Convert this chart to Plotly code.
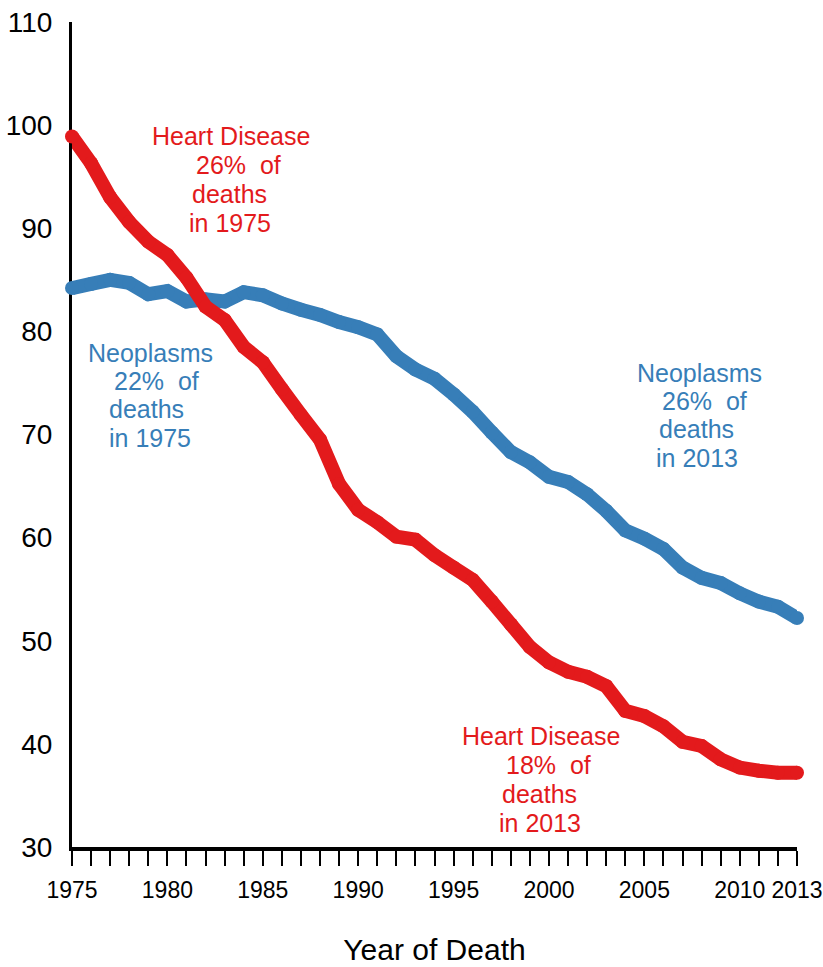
import plotly.graph_objects as go

years = [1975, 1976, 1977, 1978, 1979, 1980, 1981, 1982, 1983, 1984,
         1985, 1986, 1987, 1988, 1989, 1990, 1991, 1992, 1993, 1994,
         1995, 1996, 1997, 1998, 1999, 2000, 2001, 2002, 2003, 2004,
         2005, 2006, 2007, 2008, 2009, 2010, 2011, 2012, 2013]

heart_disease = [98.9, 96.3, 93.0, 90.6, 88.7, 87.4, 85.2, 82.4, 81.1, 78.5,
                 77.0, 74.4, 71.9, 69.5, 65.2, 62.7, 61.5, 60.1, 59.8, 58.3,
                 57.1, 55.9, 53.8, 51.6, 49.4, 47.9, 47.0, 46.5, 45.6, 43.2,
                 42.7, 41.7, 40.2, 39.8, 38.5, 37.7, 37.4, 37.2, 37.2]

neoplasms = [84.2, 84.6, 85.0, 84.7, 83.6, 83.9, 82.9, 83.1, 82.9, 83.8,
             83.5, 82.7, 82.1, 81.6, 80.9, 80.4, 79.7, 77.6, 76.3, 75.4,
             73.9, 72.2, 70.2, 68.3, 67.3, 65.9, 65.4, 64.2, 62.6, 60.7,
             59.9, 58.9, 57.1, 56.1, 55.6, 54.6, 53.8, 53.3, 52.2]

x_label_years = [1975, 1980, 1985, 1990, 1995, 2000, 2005, 2010, 2013]
y_ticks = [30, 40, 50, 60, 70, 80, 90, 100, 110]

hd_1975_text = ["Heart Disease", "26%  of", "deaths", "in 1975"]
neo_1975_text = ["Neoplasms", "22%  of", "deaths", "in 1975"]
neo_2013_text = ["Neoplasms", "26%  of", "deaths", "in 2013"]
hd_2013_text = ["Heart Disease", "18%  of", "deaths", "in 2013"]

RED = "#e31a1c"
BLUE = "#377eb8"
FONT = "Liberation Sans, Arial, sans-serif"

W, H = 823, 967
ML, MT = 72, 22
PW = 725
PH = 825
MR = W - ML - PW
MB = H - MT - PH

fig = go.Figure()
fig.add_trace(go.Scatter(x=years, y=neoplasms, mode="lines+markers",
                         line=dict(color=BLUE, width=14, simplify=False),
                         marker=dict(color=BLUE, size=14),
                         cliponaxis=False, showlegend=False, hoverinfo="x+y"))
fig.add_trace(go.Scatter(x=years, y=heart_disease, mode="lines+markers",
                         line=dict(color=RED, width=14, simplify=False),
                         marker=dict(color=RED, size=14),
                         cliponaxis=False, showlegend=False, hoverinfo="x+y"))


def px2paper(px, py):
    return (px - ML) / PW, (MT + PH - py) / PH


annots = []


def add_block(lines, centers, baselines, color):
    for txt, cx, by in zip(lines, centers, baselines):
        xp, yp = px2paper(cx, by - 9)
        annots.append(dict(text=txt, x=xp, y=yp, xref="paper", yref="paper",
                           xanchor="center", yanchor="middle", showarrow=False,
                           font=dict(family=FONT, size=25, color=color)))


add_block(hd_1975_text, [231, 238, 229, 230], [145, 174, 203, 232], RED)
add_block(neo_1975_text, [150, 156, 146, 150], [362, 390, 418, 447], BLUE)
add_block(neo_2013_text, [699, 704, 696, 697], [382, 410, 438, 467], BLUE)
add_block(hd_2013_text, [541, 548, 539, 540], [745, 774, 803, 832], RED)

tick_text = [str(y) if y in x_label_years else "" for y in years]

fig.update_layout(
    width=W, height=H,
    margin=dict(l=ML, r=MR, t=MT, b=MB, autoexpand=False),
    paper_bgcolor="white", plot_bgcolor="white",
    font=dict(family=FONT, color="black"),
    annotations=annots,
    xaxis=dict(range=[1975, 2013], tickmode="array", tickvals=years,
               ticktext=tick_text, ticks="outside", ticklen=15, tickwidth=2,
               tickcolor="black", showline=True, linecolor="black",
               linewidth=4, showgrid=False, zeroline=False,
               tickfont=dict(family=FONT, size=23, color="black"),
               tickangle=0, ticklabelstandoff=4, ticklabeloverflow="allow",
               layer="below traces",
               title=dict(text="Year of Death", standoff=38,
                          font=dict(family=FONT, size=30, color="black"))),
    yaxis=dict(range=[30, 110], tickmode="array", tickvals=y_ticks,
               ticks="", showline=True, linecolor="black", linewidth=3,
               showgrid=False, zeroline=False, ticklabelstandoff=11,
               ticklabeloverflow="allow",
               tickfont=dict(family=FONT, size=28, color="black"),
               layer="below traces"),
)

fig.write_html(
    "out.html",
    config={"displayModeBar": False},
    post_script="document.body.style.margin='0';document.body.style.overflow='hidden';",
)
